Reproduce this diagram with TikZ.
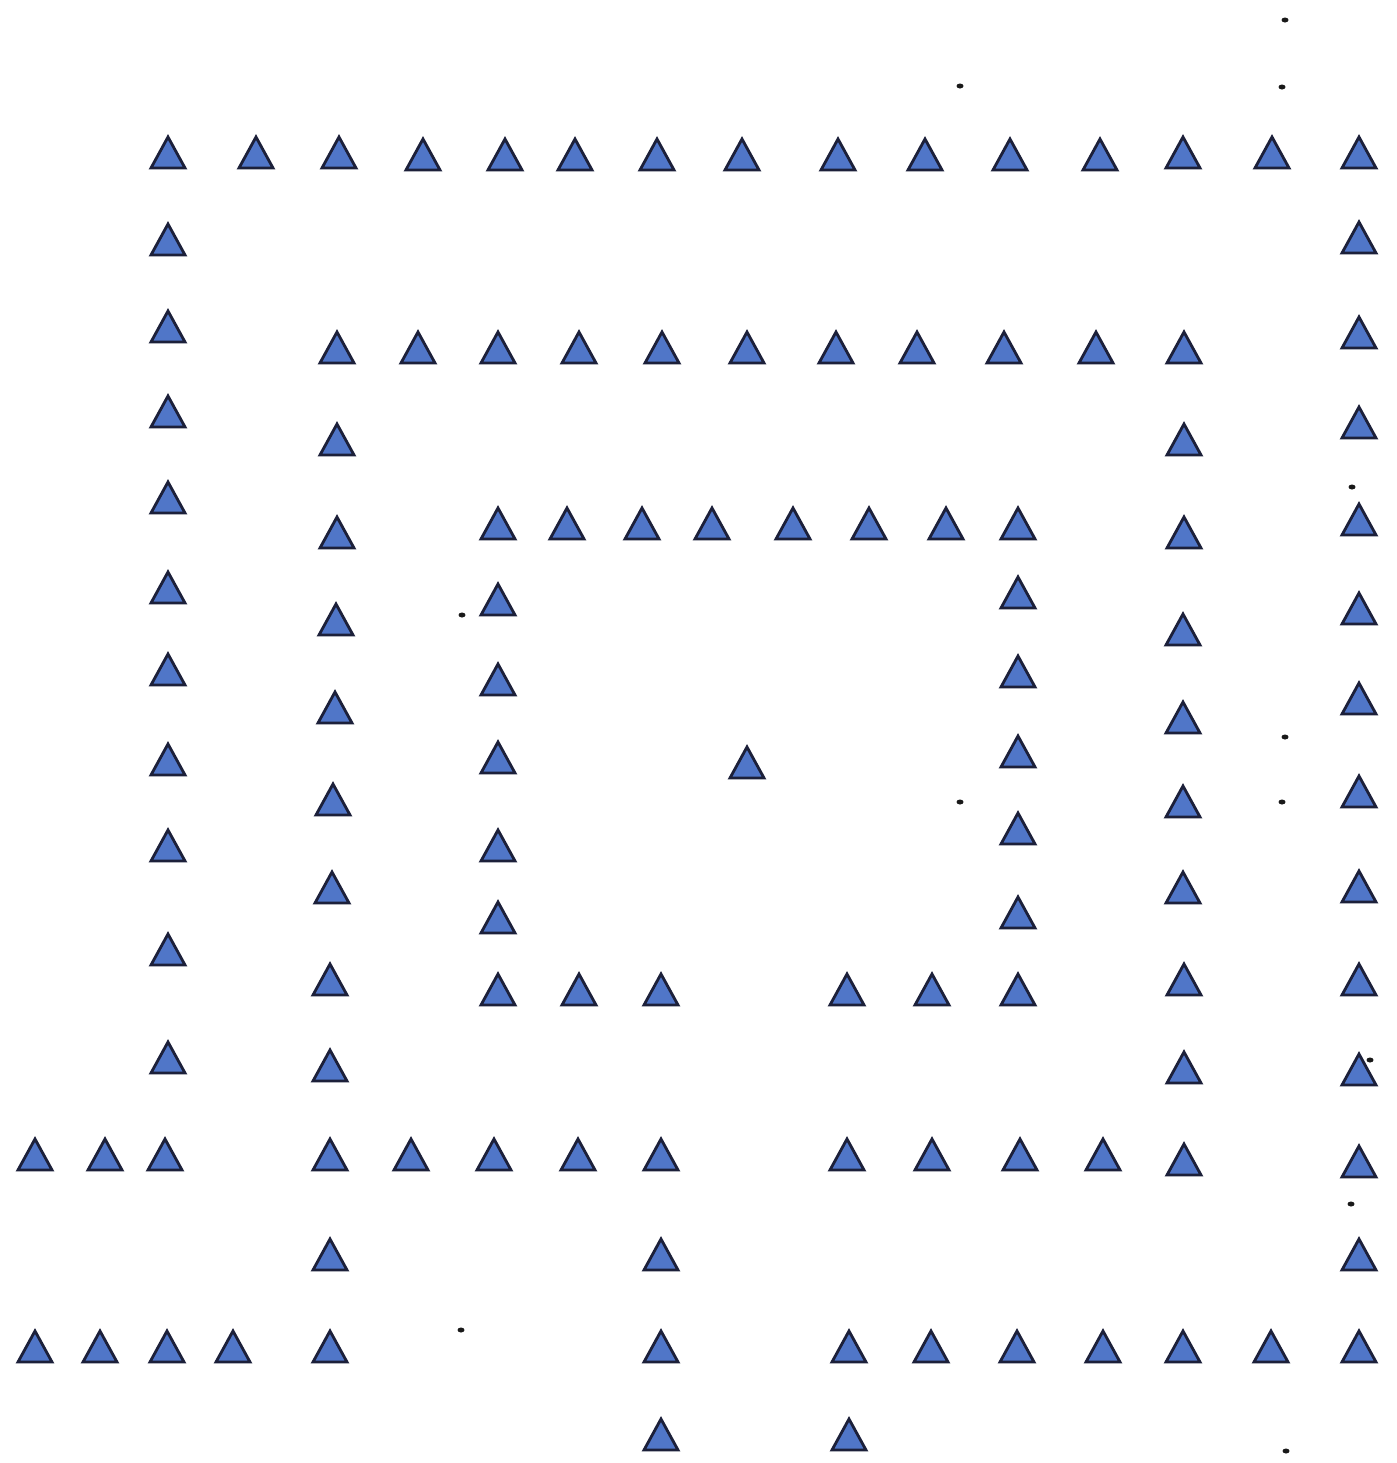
\documentclass[tikz,border=0pt]{standalone}
\usepackage{xcolor}
\usepackage{tikz}
\definecolor{triblue}{RGB}{80,118,200}
\definecolor{triedge}{RGB}{28,32,58}

\begin{document}
\begin{tikzpicture}[
    x=0.01cm, y=-0.01cm,
    tri/.style={fill=triblue, draw=triedge, line width=0.8pt, line join=miter},
    speck/.style={fill=black!90}
  ]
    \useasboundingbox[fill=white] (0,0) rectangle (1396,1463);
    % outer ring
    \foreach \x/\y in {168/153, 256/153, 339/153, 423/155, 505/155, 575/155, 657/155, 742/155, 838/155, 925/155, 1010/155, 1100/155, 1183/153, 1272/153, 1359/153,
                       168/240, 168/327, 168/412, 168/498, 168/588, 168/670, 168/760, 168/846, 168/950, 168/1058,
                       1359/238, 1359/333, 1359/423, 1359/520, 1359/609, 1359/699, 1359/792, 1359/887, 1359/980, 1359/1070}
    {
      \draw[tri] (\x-17,\y+15) -- (\x,\y-16) -- (\x+17,\y+15) -- cycle;
    }
    % second ring
    \foreach \x/\y in {337/348, 418/348, 498/348, 579/348, 662/348, 747/348, 836/348, 917/348, 1004/348, 1096/348, 1184/348,
                       337/440, 337/533, 336/620, 335/708, 333/800, 332/888, 330/980, 330/1066,
                       1184/440, 1184/533, 1183/630, 1183/718, 1183/802, 1183/888, 1184/980, 1184/1068}
    {
      \draw[tri] (\x-17,\y+15) -- (\x,\y-16) -- (\x+17,\y+15) -- cycle;
    }
    % inner ring and centre
    \foreach \x/\y in {498/524, 567/524, 642/524, 712/524, 793/524, 869/524, 946/524, 1018/524,
                       498/600, 498/680, 498/758, 498/846, 498/918,
                       1018/593, 1018/672, 1018/752, 1018/829, 1018/913,
                       498/990, 579/990, 661/990, 847/990, 932/990, 1018/990,
                       747/763}
    {
      \draw[tri] (\x-17,\y+15) -- (\x,\y-16) -- (\x+17,\y+15) -- cycle;
    }
    % bottom rows
    \foreach \x/\y in {35/1155, 105/1155, 165/1155, 330/1155, 411/1155, 494/1155, 578/1155, 661/1155,
                       847/1155, 932/1155, 1020/1155, 1103/1155, 1184/1160, 1359/1162,
                       330/1255, 661/1255, 1359/1255,
                       35/1347, 100/1347, 167/1347, 233/1347, 330/1347,
                       661/1347, 849/1347, 931/1347, 1017/1347, 1103/1347, 1183/1347, 1271/1347, 1359/1347,
                       661/1435, 849/1435}
    {
      \draw[tri] (\x-17,\y+15) -- (\x,\y-16) -- (\x+17,\y+15) -- cycle;
    }
    % scan specks
    \foreach \x/\y in {1285/20, 960/86, 1282/87, 1352/487, 462/615, 1285/737, 1282/802, 960/802,
                       1370/1060, 1351/1204, 461/1330, 1286/1451}
    {
      \fill[speck] (\x,\y) ellipse (3.5 and 2.5);
    }
  \end{tikzpicture}
\end{document}
